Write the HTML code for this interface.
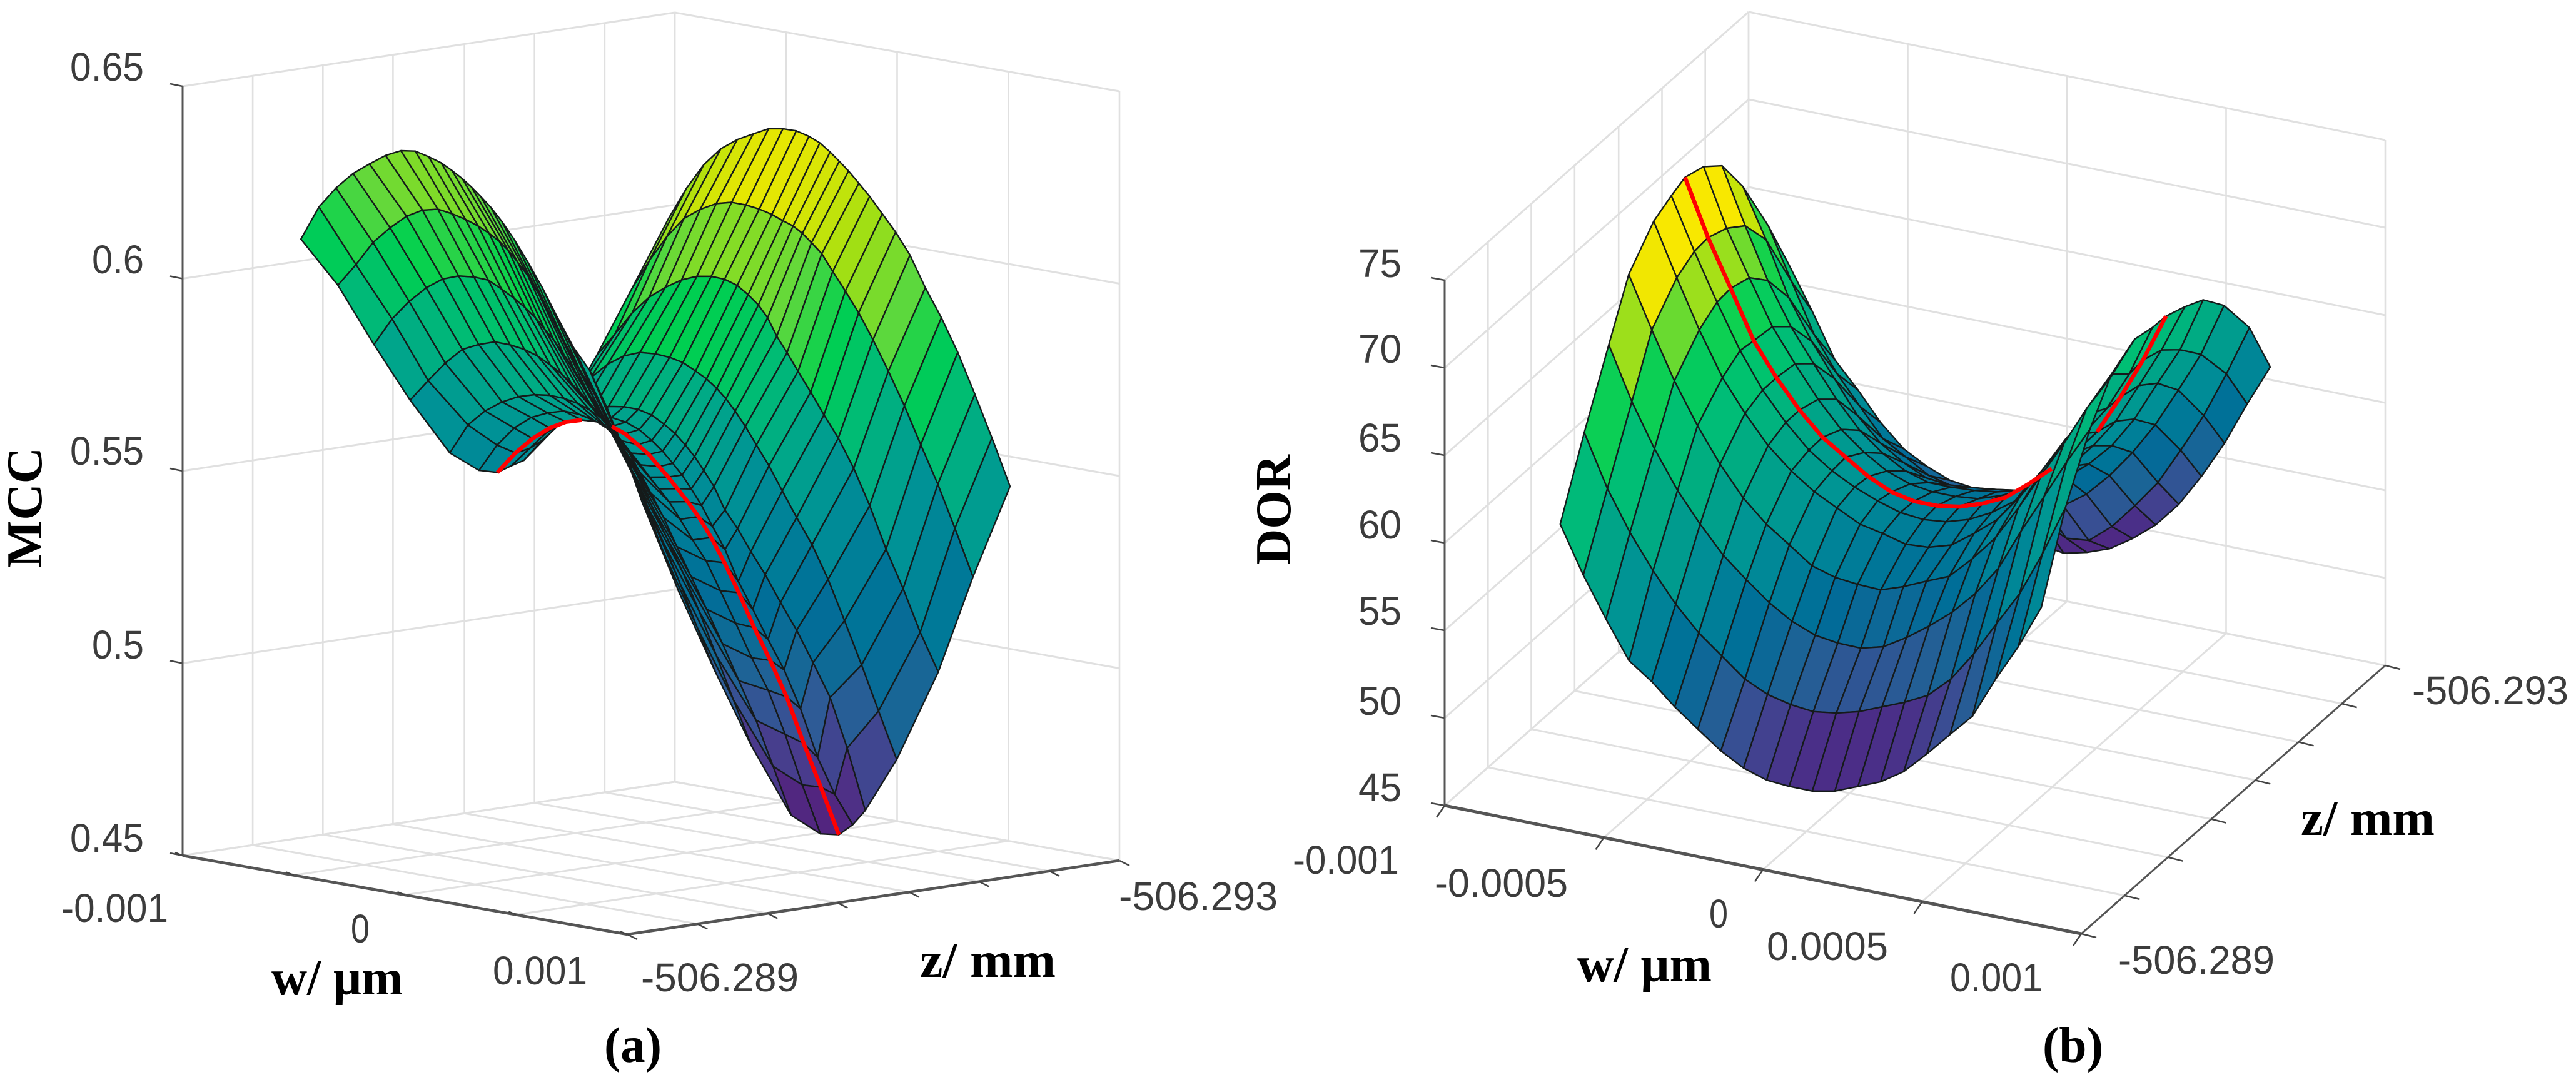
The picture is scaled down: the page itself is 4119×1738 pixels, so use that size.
<!DOCTYPE html>
<html lang="en">
<head>
<meta charset="utf-8">
<title>MCC and DOR response surfaces</title>
<style>
html,body{margin:0;padding:0;background:#fff;}
svg{display:block;}
.tick{font-family:"Liberation Sans",sans-serif;font-size:64px;fill:#3c3c3c;}
.lab{font-family:"Liberation Serif",serif;font-weight:bold;font-size:80px;fill:#000;}
</style>
</head>
<body>
<svg id="fig" xmlns="http://www.w3.org/2000/svg" width="4119" height="1738" viewBox="0 0 4119 1738">
  <rect x="0" y="0" width="4119" height="1738" fill="#ffffff"/>
  <g id="chartA"></g>
  <g id="chartB"></g>

  <g class="tick">
    <text x="112" y="129" textLength="118" lengthAdjust="spacingAndGlyphs">0.65</text>
    <text x="147" y="437" textLength="83" lengthAdjust="spacingAndGlyphs">0.6</text>
    <text x="112" y="743" textLength="118" lengthAdjust="spacingAndGlyphs">0.55</text>
    <text x="147" y="1053" textLength="83" lengthAdjust="spacingAndGlyphs">0.5</text>
    <text x="112" y="1362" textLength="118" lengthAdjust="spacingAndGlyphs">0.45</text>
  </g>
  <g class="tick">
    <text x="98" y="1474" textLength="171" lengthAdjust="spacingAndGlyphs">-0.001</text>
    <text x="561" y="1507" textLength="30" lengthAdjust="spacingAndGlyphs">0</text>
    <text x="788" y="1574" textLength="151" lengthAdjust="spacingAndGlyphs">0.001</text>
    <text x="1025" y="1585" textLength="252" lengthAdjust="spacingAndGlyphs">-506.289</text>
    <text x="1789" y="1455" textLength="254" lengthAdjust="spacingAndGlyphs">-506.293</text>
  </g>
  <g class="tick">
    <text x="2172" y="443" textLength="69" lengthAdjust="spacingAndGlyphs">75</text>
    <text x="2172" y="580" textLength="69" lengthAdjust="spacingAndGlyphs">70</text>
    <text x="2172" y="722" textLength="69" lengthAdjust="spacingAndGlyphs">65</text>
    <text x="2172" y="861" textLength="69" lengthAdjust="spacingAndGlyphs">60</text>
    <text x="2172" y="999" textLength="69" lengthAdjust="spacingAndGlyphs">55</text>
    <text x="2172" y="1143" textLength="69" lengthAdjust="spacingAndGlyphs">50</text>
    <text x="2172" y="1281" textLength="69" lengthAdjust="spacingAndGlyphs">45</text>
  </g>
  <g class="tick">
    <text x="2067" y="1397" textLength="170" lengthAdjust="spacingAndGlyphs">-0.001</text>
    <text x="2294" y="1434" textLength="213" lengthAdjust="spacingAndGlyphs">-0.0005</text>
    <text x="2733" y="1483" textLength="30" lengthAdjust="spacingAndGlyphs">0</text>
    <text x="2825" y="1535" textLength="194" lengthAdjust="spacingAndGlyphs">0.0005</text>
    <text x="3118" y="1585" textLength="148" lengthAdjust="spacingAndGlyphs">0.001</text>
    <text x="3387" y="1557" textLength="250" lengthAdjust="spacingAndGlyphs">-506.289</text>
    <text x="3857" y="1126" textLength="250" lengthAdjust="spacingAndGlyphs">-506.293</text>
  </g>

  <text class="lab" transform="translate(66,908) rotate(-90)" textLength="193" lengthAdjust="spacingAndGlyphs">MCC</text>
  <text class="lab" x="434" y="1590" textLength="210" lengthAdjust="spacingAndGlyphs">w/ µm</text>
  <text class="lab" x="1471" y="1562" textLength="217" lengthAdjust="spacingAndGlyphs">z/ mm</text>
  <text class="lab" x="966" y="1698" textLength="92" lengthAdjust="spacingAndGlyphs">(a)</text>

  <text class="lab" transform="translate(2063,903) rotate(-90)" textLength="176" lengthAdjust="spacingAndGlyphs">DOR</text>
  <text class="lab" x="2522" y="1569" textLength="215" lengthAdjust="spacingAndGlyphs">w/ µm</text>
  <text class="lab" x="3679" y="1335" textLength="214" lengthAdjust="spacingAndGlyphs">z/ mm</text>
  <text class="lab" x="3266" y="1698" textLength="97" lengthAdjust="spacingAndGlyphs">(b)</text>
</svg>

<script>
/* ---------- shared axis ticks ---------- */
const wTicks = [-0.001, -0.0005, 0, 0.0005, 0.001];
const zTicks = [-506.289, -506.28957, -506.29014, -506.29071, -506.29129, -506.29186, -506.29243, -506.293];

/* ---------- panel (a): MCC ---------- */
const mccLevels = [0.45, 0.5, 0.55, 0.6, 0.65];
const mccRowPos = [0, 0.1006, 0.1987, 0.2969, 0.4050, 0.4843, 0.5346, 0.5723, 0.6063, 0.6918, 0.8050, 0.8994, 1];
const mccColPos = [0, 0.053, 0.103, 0.153, 0.201, 0.248, 0.293, 0.335, 0.374, 0.411, 0.443, 0.473, 0.5, 0.527, 0.557, 0.589, 0.626, 0.665, 0.707, 0.752, 0.799, 0.847, 0.897, 0.947, 1];
const mccValues = [
[.5931,.6025,.6084,.6131,.6165,.6196,.6217,.6224,.6217,.6208,.6194,.6179,.6162,.6143,.6120,.6090,.6049,.5999,.5941,.5871,.5802,.5751,.5664,.5560,.5438],
[.5832,.5896,.5963,.6011,.6050,.6075,.6086,.6082,.6075,.6065,.6052,.6037,.6018,.5993,.5963,.5921,.5868,.5810,.5751,.5693,.5624,.5544,.5445,.5334,.5224],
[.5698,.5775,.5830,.5875,.5907,.5924,.5930,.5930,.5914,.5897,.5879,.5859,.5834,.5811,.5778,.5742,.5695,.5649,.5585,.5515,.5433,.5347,.5248,.5144,.5039],
[.5574,.5635,.5690,.5735,.5757,.5773,.5774,.5770,.5760,.5744,.5728,.5708,.5689,.5666,.5642,.5610,.5565,.5507,.5436,.5360,.5279,.5187,.5082,.4977,.4867],
[.5459,.5542,.5588,.5621,.5644,.5658,.5665,.5665,.5660,.5649,.5635,.5615,.5588,.5557,.5515,.5467,.5411,.5343,.5273,.5197,.5116,.5029,.4936,.4826,.4709],
[.5430,.5506,.5560,.5597,.5618,.5632,.5632,.5626,.5612,.5587,.5560,.5535,.5508,.5483,.5455,.5416,.5369,.5323,.5253,.5177,.5096,.5021,.4916,.4794,.4677],
[.5435,.5496,.5543,.5580,.5605,.5619,.5623,.5619,.5607,.5586,.5567,.5541,.5519,.5494,.5466,.5433,.5386,.5328,.5258,.5176,.5100,.5014,.4903,.4799,.4685],
[.5460,.5515,.5566,.5603,.5624,.5638,.5642,.5638,.5626,.5605,.5583,.5557,.5532,.5501,.5464,.5416,.5363,.5287,.5223,.5153,.5083,.4991,.4874,.4788,.4719],
[.5481,.5543,.5593,.5628,.5649,.5669,.5677,.5678,.5671,.5654,.5636,.5612,.5587,.5556,.5520,.5465,.5424,.5372,.5320,.5256,.5193,.5118,.5037,.4915,.4763],
[.5583,.5675,.5733,.5778,.5809,.5827,.5832,.5831,.5825,.5810,.5796,.5777,.5755,.5728,.5694,.5652,.5605,.5547,.5486,.5424,.5343,.5245,.5139,.5029,.4913],
[.5796,.5861,.5925,.5976,.6011,.6039,.6057,.6065,.6065,.6056,.6038,.6017,.5989,.5946,.5909,.5867,.5820,.5768,.5716,.5646,.5558,.5454,.5361,.5257,.5164],
[.5987,.6073,.6143,.6200,.6233,.6257,.6269,.6270,.6267,.6260,.6250,.6242,.6228,.6209,.6186,.6146,.6102,.6053,.5991,.5918,.5837,.5745,.5652,.5547,.5431],
[.6192,.6281,.6351,.6402,.6435,.6459,.6481,.6489,.6491,.6484,.6473,.6455,.6436,.6416,.6390,.6362,.6324,.6284,.6232,.6156,.6087,.6006,.5907,.5803,.5687]
];
const mccColorLevels = [0.468, 0.485, 0.5, 0.512, 0.525, 0.54, 0.555, 0.568, 0.582, 0.595, 0.608, 0.625, 0.640];
const mccRedRow = 6;
const mccRedSpans = [[0, 5], [7, 24]];

/* ---------- panel (b): DOR ---------- */
const dorLevels = [45, 50, 55, 60, 65, 70, 75];
const dorRowPos = [0, 0.105, 0.212, 0.299, 0.408, 0.485, 0.545, 0.626, 0.707, 0.798, 0.909, 1];
const dorColPos = [0, 0.048, 0.095, 0.143, 0.190, 0.238, 0.286, 0.334, 0.381, 0.429, 0.476, 0.524, 0.571, 0.619, 0.666, 0.714, 0.762, 0.810, 0.857, 0.905, 0.952, 1];
const dorValues = [
[63.49,60.45,57.81,55.30,53.98,52.40,51.00,49.63,48.52,47.70,47.21,46.81,46.68,46.81,46.95,47.40,48.27,49.25,50.17,52.15,53.87,55.99],
[67.29,63.96,61.32,59.02,56.97,55.20,53.75,52.29,51.29,50.58,50.05,49.84,49.79,49.93,50.06,50.32,51.12,52.44,54.03,55.61,57.73,60.24],
[70.85,67.47,64.65,62.14,60.08,58.18,56.65,55.20,54.01,53.09,52.51,52.09,52.04,52.43,52.96,53.62,54.55,55.87,57.85,59.70,61.55,63.27],
[73.68,70.38,67.35,64.65,62.33,60.27,58.64,57.32,56.00,55.21,54.68,54.23,54.29,54.47,54.61,55.48,56.54,58.12,59.84,61.56,63.41,64.99],
[75.24,71.88,68.77,65.92,63.75,61.77,60.19,58.87,57.82,56.76,56.10,55.36,55.05,55.05,55.58,56.24,57.43,58.88,60.47,61.79,63.91,65.76],
[75.65,72.34,69.31,66.41,64.03,62.05,60.34,59.02,57.96,57.04,56.25,55.72,55.46,55.46,55.73,56.25,57.18,58.37,59.69,61.01,62.86,65.37],
[75.88,72.31,69.28,66.16,63.92,61.94,60.25,58.98,57.75,56.74,56.08,55.69,55.51,55.56,55.77,56.41,57.15,57.94,59.00,60.85,62.83,65.21],
[75.39,71.74,68.79,65.86,63.61,61.45,59.60,58.15,56.96,56.09,55.51,55.12,54.86,54.91,55.07,55.57,56.18,57.24,58.51,60.41,62.31,64.64],
[74.34,70.78,67.53,64.76,62.52,60.35,58.45,57.00,55.87,55.07,54.68,54.36,54.15,54.10,54.16,54.55,55.22,56.14,57.52,59.44,61.22,63.94],
[71.92,68.75,65.32,62.68,60.43,58.19,56.48,55.23,54.23,53.70,53.42,53.18,53.00,52.26,51.86,52.39,53.32,54.51,55.96,57.81,59.72,62.38],
[68.16,64.86,61.69,59.32,57.34,55.36,54.17,52.98,52.27,51.88,51.14,50.61,49.69,48.63,48.37,49.03,50.09,51.28,53.00,54.85,57.10,59.60],
[64.68,61.91,59.01,57.16,55.18,53.54,52.41,51.48,50.93,50.38,48.58,47.26,46.66,46.58,46.66,47.11,47.75,48.80,50.26,52.03,54.14,56.12]
];
const dorColorLevels = [46.6, 48.5, 50, 52, 54, 56, 58, 60, 62, 64, 66, 68, 70, 71.5, 73];
const dorRedRow = 6;
const dorRedSpans = [[0, 16], [18, 21]];

/* ---------- colormaps (low to high) ---------- */
const mccColors = ['#561a78', '#4a3a8c', '#2f5a96', '#106a96', '#006e98', '#007f98', '#009296', '#00a68a', '#00bc74', '#00d050', '#60d83c', '#a8e010', '#f0e800'];
const dorColors = ['#55207e', '#4a2f88', '#3e4a92', '#1f6296', '#006c98', '#007f98', '#009296', '#009e8c', '#00ac82', '#00bc78', '#00c866', '#10d24e', '#80dc28', '#c8e408', '#f8e800'];

/* ---------- axis functions ---------- */
function wFrac(w) { return (w + 0.001) / 0.002; }
function zFrac(z) { return (-506.289 - z) / 0.004; }

const axesA = {
  ox: 292, oy: 1368, ux: 711, uy: 126, vx: 787, vy: -118, h: 1230, lo: 0.45, hi: 0.65,
  meshU: function (s, t) { return -0.3321 + 0.92587 * s + 0.85962 * t; },
  meshV: function (s, t) { return 0.54031 - 0.08932 * s - 0.08296 * t; },
  tickV: [-20, -4], tickW: [-12, -5], tickZ: [16, 8], wAxisWidth: 4.5, zAxisWidth: 4.5
};
const axesB = {
  ox: 2310, oy: 1288, ux: 1018, uy: 205, vx: 486, vy: -429, h: 840, lo: 45, hi: 75,
  meshU: function (s, t) { return 0.20925 - 0.05223 * s + 0.54556 * t; },
  meshV: function (s, t) { return -0.05805 + 0.86269 * s + 0.43996 * t; },
  tickV: [-22, -4], tickW: [-13, 19], tickZ: [24, 6], wAxisWidth: 5, zAxisWidth: 3
};

function project(ax, u, v, val) {
  return [
    ax.ox + ax.ux * u + ax.vx * v,
    ax.oy + ax.uy * u + ax.vy * v - ax.h * (val - ax.lo) / (ax.hi - ax.lo)
  ];
}

function hexToRgb(h) {
  return [parseInt(h.substr(1, 2), 16), parseInt(h.substr(3, 2), 16), parseInt(h.substr(5, 2), 16)];
}
function colorOf(val, levels, colors) {
  if (val <= levels[0]) return colors[0];
  for (let k = 1; k < levels.length; k++) {
    if (val <= levels[k]) {
      const f = (val - levels[k - 1]) / (levels[k] - levels[k - 1]);
      const a = hexToRgb(colors[k - 1]);
      const b = hexToRgb(colors[k]);
      return 'rgb(' + Math.round(a[0] + (b[0] - a[0]) * f) + ',' + Math.round(a[1] + (b[1] - a[1]) * f) + ',' + Math.round(a[2] + (b[2] - a[2]) * f) + ')';
    }
  }
  return colors[colors.length - 1];
}

const NS = 'http://www.w3.org/2000/svg';

function addLine(parent, p, q, stroke, width, name) {
  const el = document.createElementNS(NS, 'line');
  el.setAttribute('x1', p[0].toFixed(1));
  el.setAttribute('y1', p[1].toFixed(1));
  el.setAttribute('x2', q[0].toFixed(1));
  el.setAttribute('y2', q[1].toFixed(1));
  el.setAttribute('stroke', stroke);
  el.setAttribute('stroke-width', width);
  
  
  parent.appendChild(el);
}

function drawFrame(g, ax, levels) {
  const grid = '#e0e0e0';
  const lo = ax.lo, hi = ax.hi;
  zTicks.forEach(function (z) {
    const v = zFrac(z);
    addLine(g, project(ax, 0, v, lo), project(ax, 0, v, hi), grid, 2.6, 'left-wall-gridline');
    addLine(g, project(ax, 0, v, lo), project(ax, 1, v, lo), grid, 3, 'floor-gridline-z');
  });
  wTicks.forEach(function (w) {
    const u = wFrac(w);
    addLine(g, project(ax, u, 1, lo), project(ax, u, 1, hi), grid, 2.6, 'right-wall-gridline');
    addLine(g, project(ax, u, 0, lo), project(ax, u, 1, lo), grid, 3, 'floor-gridline-w');
  });
  levels.forEach(function (lv) {
    addLine(g, project(ax, 0, 0, lv), project(ax, 0, 1, lv), grid, 3, 'left-wall-level-gridline');
    addLine(g, project(ax, 0, 1, lv), project(ax, 1, 1, lv), grid, 3, 'right-wall-level-gridline');
    const p = project(ax, 0, 0, lv);
    addLine(g, p, [p[0] + ax.tickV[0], p[1] + ax.tickV[1]], '#444', 2.5, 'value-axis-tick');
  });
  addLine(g, project(ax, 0, 0, lo), project(ax, 0, 0, hi), '#555', 3, 'value-axis-line');
  addLine(g, project(ax, 0, 0, lo), project(ax, 1, 0, lo), '#555', ax.wAxisWidth, 'w-axis-line');
  addLine(g, project(ax, 1, 0, lo), project(ax, 1, 1, lo), '#555', ax.zAxisWidth, 'z-axis-line');
  wTicks.forEach(function (w) {
    const p = project(ax, wFrac(w), 0, lo);
    addLine(g, p, [p[0] + ax.tickW[0], p[1] + ax.tickW[1]], '#444', 2.5, 'w-axis-tick');
  });
  zTicks.forEach(function (z) {
    const p = project(ax, 1, zFrac(z), lo);
    addLine(g, p, [p[0] + ax.tickZ[0], p[1] + ax.tickZ[1]], '#444', 2.5, 'z-axis-tick');
  });
}

function drawSurface(g, ax, rows, cols, vals, levels, colors, prefix) {
  function pt(i, j) {
    return project(ax, ax.meshU(rows[i], cols[j]), ax.meshV(rows[i], cols[j]), vals[i][j]);
  }
  for (let i = rows.length - 2; i >= 0; i--) {
    for (let j = 0; j < cols.length - 1; j++) {
      const pts = [pt(i, j), pt(i, j + 1), pt(i + 1, j + 1), pt(i + 1, j)];
      const mean = (vals[i][j] + vals[i][j + 1] + vals[i + 1][j + 1] + vals[i + 1][j]) / 4;
      const el = document.createElementNS(NS, 'polygon');
      el.setAttribute('points', pts.map(function (p) { return p[0].toFixed(1) + ',' + p[1].toFixed(1); }).join(' '));
      el.setAttribute('fill', colorOf(mean, levels, colors));
      el.setAttribute('stroke', '#151a1a');
      el.setAttribute('stroke-width', '2.4');
      el.setAttribute('stroke-linejoin', 'round');
      
      
      g.appendChild(el);
    }
  }
}

function drawRed(g, ax, rows, cols, vals, row, spans, prefix) {
  spans.forEach(function (span) {
    const pts = [];
    for (let j = span[0]; j <= span[1]; j++) {
      const p = project(ax, ax.meshU(rows[row], cols[j]), ax.meshV(rows[row], cols[j]), vals[row][j]);
      pts.push(p[0].toFixed(1) + ',' + p[1].toFixed(1));
    }
    const el = document.createElementNS(NS, 'polyline');
    el.setAttribute('points', pts.join(' '));
    el.setAttribute('fill', 'none');
    el.setAttribute('stroke', '#ff0000');
    el.setAttribute('stroke-width', '6.5');
    el.setAttribute('stroke-linejoin', 'round');
    
    
    g.appendChild(el);
  });
}

const gA = document.getElementById('chartA');
const gB = document.getElementById('chartB');
drawFrame(gA, axesA, mccLevels);
drawSurface(gA, axesA, mccRowPos, mccColPos, mccValues, mccColorLevels, mccColors, 'mcc');
drawRed(gA, axesA, mccRowPos, mccColPos, mccValues, mccRedRow, mccRedSpans, 'mcc');
drawFrame(gB, axesB, dorLevels);
drawSurface(gB, axesB, dorRowPos, dorColPos, dorValues, dorColorLevels, dorColors, 'dor');
drawRed(gB, axesB, dorRowPos, dorColPos, dorValues, dorRedRow, dorRedSpans, 'dor');
</script>
</body>
</html>
